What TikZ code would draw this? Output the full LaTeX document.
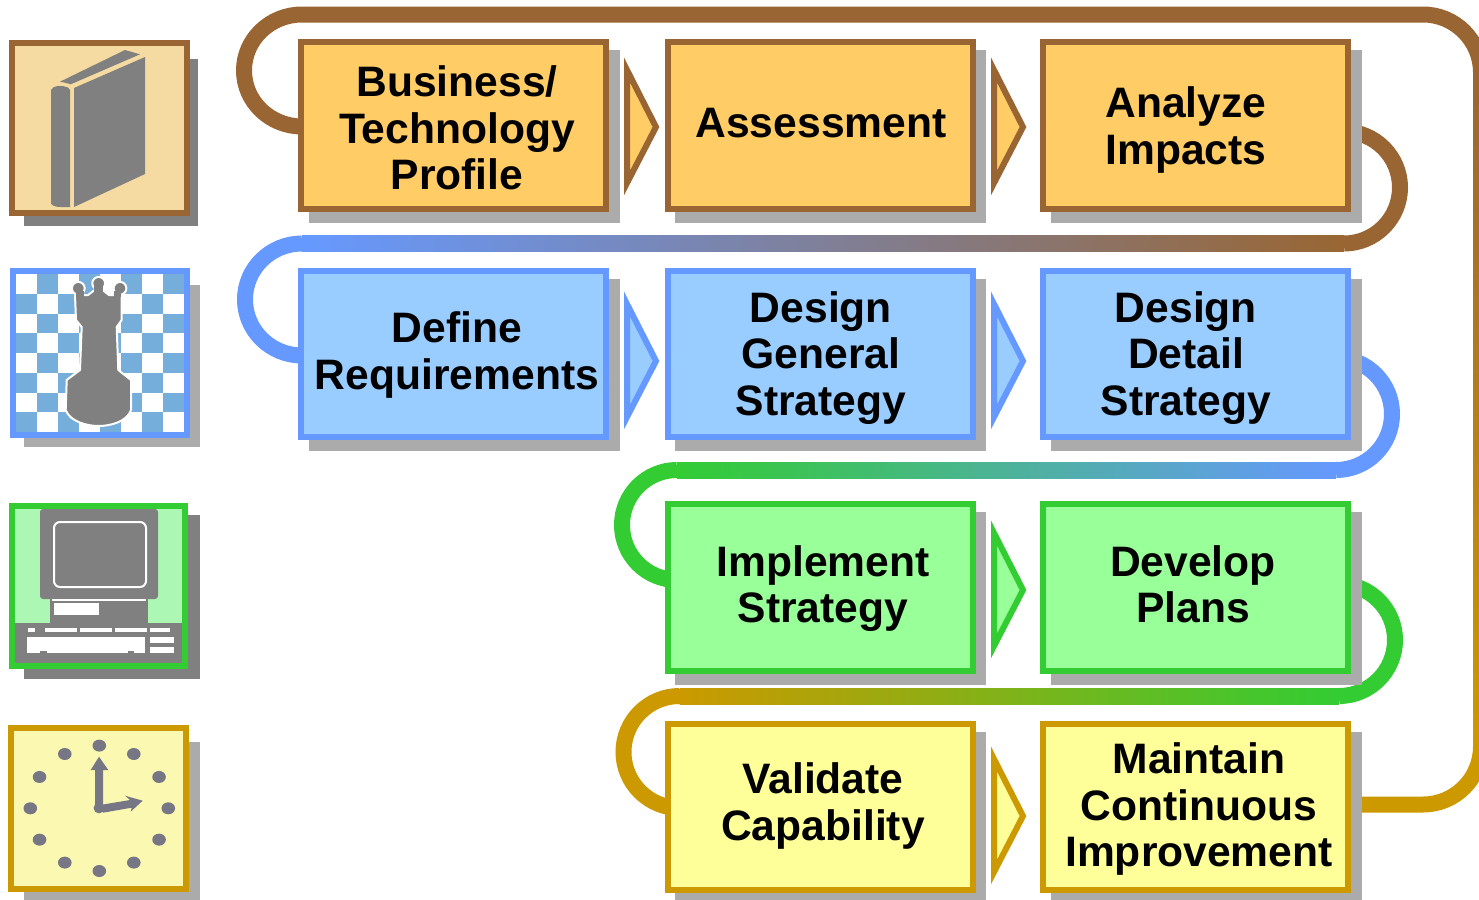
\documentclass[tikz,border=0pt]{standalone}
\usepackage{fontspec}
\setmainfont{Liberation Sans}
\usepackage{xcolor}
\usetikzlibrary{arrows,shadows,backgrounds}

\definecolor{tanline}{HTML}{996633}
\definecolor{tanfill}{HTML}{FFCC66}
\definecolor{skyline}{HTML}{6699FF}
\definecolor{skyfill}{HTML}{99CCFF}
\definecolor{leafline}{HTML}{33CC33}
\definecolor{leaffill}{HTML}{99FF99}
\definecolor{goldline}{HTML}{CC9900}
\definecolor{goldfill}{HTML}{FFFF99}
\definecolor{shadowlight}{HTML}{ABABAB}
\definecolor{shadowdark}{HTML}{808080}
\definecolor{bookback}{HTML}{F5DBA1}
\definecolor{checkblue}{HTML}{75AEDB}
\definecolor{screenback}{HTML}{ABF7B3}
\definecolor{clockback}{HTML}{FBF8B1}
\definecolor{clockhand}{HTML}{767685}

\tikzset{
	flowbox/.style={rectangle,minimum width=152.5pt,minimum height=83.2pt,inner sep=0pt,outer sep=0pt,line width=3pt,
		general shadow={shadow xshift=5.25pt,shadow yshift=-5.5pt,fill=shadowlight,draw=shadowlight,line width=3pt}},
	tanbox/.style={flowbox,draw=tanline,fill=tanfill},
	skybox/.style={flowbox,draw=skyline,fill=skyfill},
	leafbox/.style={flowbox,draw=leafline,fill=leaffill},
	goldbox/.style={flowbox,draw=goldline,fill=goldfill},
	boxtext/.style={align=center,inner sep=0pt,text=black,font=\fontsize{21.3}{23.15}\selectfont\bfseries},
	iconbox/.style={rectangle,inner sep=0pt,outer sep=0pt,line width=3pt},
	ribbon/.style={line width=8pt},
	flowtip/.style={line width=3pt,line join=miter}
}

\begin{document}
\begin{tikzpicture}[line cap=butt,x=0.5pt,y=-0.5pt]
	\clip (0,0) rectangle (1479,900);
	% step boxes
	\node[tanbox] (profile) at (453.5,125.5) {};
	\node[tanbox] (assess) at (820,125.5) {};
	\node[tanbox] (analyze) at (1195.5,125.5) {};
	\node[skybox] (define) at (453.5,353.7) {};
	\node[skybox] (general) at (820,353.7) {};
	\node[skybox] (detail) at (1195.5,353.7) {};
	\node[leafbox] (implement) at (820,587.5) {};
	\node[leafbox] (develop) at (1195.5,587.5) {};
	\node[goldbox] (validate) at (820,807) {};
	\node[goldbox] (maintain) at (1195.5,807) {};
	% step texts
	\node[boxtext] (profiletext) at (457,128) {Business/\\Technology\\Profile};
	\node[boxtext] (assesstext) at (821,123) {Assessment};
	\node[boxtext] (analyzetext) at (1186,130) {Analyze\\Impacts};
	\node[boxtext] (definetext) at (457,355) {Define\\Requirements};
	\node[boxtext] (generaltext) at (821,358) {Design\\General\\Strategy};
	\node[boxtext] (detailtext) at (1186,358) {Design\\Detail\\Strategy};
	\node[boxtext] (implementtext) at (823,588.5) {Implement\\Strategy};
	\node[boxtext] (developtext) at (1193,584.5) {Develop\\Plans};
	\node[boxtext] (validatetext) at (823,806) {Validate\\Capability};
	\node[boxtext] (maintaintext) at (1199,809) {Maintain\\Continuous\\Improvement};
	% small arrows between the boxes
	\draw[flowtip,draw=tanline,fill=tanfill] (627,70)--(656,127)--(627,183)--cycle;
	\draw[flowtip,draw=tanline,fill=tanfill] (994,70)--(1023,127)--(994,183)--cycle;
	\draw[flowtip,draw=skyline,fill=skyfill] (627,304)--(656,361)--(627,417)--cycle;
	\draw[flowtip,draw=skyline,fill=skyfill] (994,304)--(1023,361)--(994,417)--cycle;
	\draw[flowtip,draw=leafline,fill=leaffill] (994,533)--(1023,590)--(994,646)--cycle;
	\draw[flowtip,draw=goldline,fill=goldfill] (994,759)--(1023,816)--(994,872)--cycle;
	% ribbons, behind the boxes
	\begin{scope}[on background layer]
		\draw[ribbon,tanline] ([xshift=.5pt,yshift=-.5pt]profile.west) arc [start angle=270,end angle=90,x radius=29pt,y radius=28pt] coordinate (profiletop) -- (1423,14.5) arc [start angle=90,end angle=0,radius=29pt] coordinate (topturn);
		\draw[ribbon,tanline] ([xshift=-2pt,yshift=-3pt]analyze.east) arc [start angle=90,end angle=-90,radius=28pt] coordinate (analyzelow);
		\draw[ribbon,skyline] ([xshift=.5pt,yshift=-.9pt]define.west) arc [start angle=270,end angle=90,x radius=28.5pt,y radius=28pt] coordinate (defineup);
		\shade[left color=skyline,right color=tanline] ([yshift=-4pt]defineup) rectangle ([yshift=4pt]analyzelow);
		\draw[ribbon,skyline] ([xshift=-6pt,yshift=-2.15pt]detail.east) arc [start angle=90,end angle=-90,radius=28pt] coordinate (detaillow);
		\draw[ribbon,leafline] ([xshift=4.75pt,yshift=3.75pt]implement.west) arc [start angle=270,end angle=90,radius=27.5pt] coordinate (implementup);
		\shade[left color=leafline,right color=skyline] ([yshift=-4pt]implementup) rectangle ([yshift=4pt]detaillow);
		\draw[ribbon,leafline] ([xshift=-4.5pt,yshift=1.75pt]develop.east) arc [start angle=90,end angle=-90,radius=28pt] coordinate (developlow);
		\draw[ribbon,goldline] ([xshift=6pt,yshift=-.5pt]validate.west) arc [start angle=270,end angle=90,radius=28pt] coordinate (validateup);
		\shade[left color=goldline,right color=leafline] ([yshift=-4pt]validateup) rectangle ([yshift=4pt]developlow);
		\draw[ribbon,goldline] ([yshift=1.25pt]maintain.east) -- (1423,804.5) arc [start angle=-90,end angle=0,radius=29pt] coordinate (lowturn);
		\shade[top color=tanline,bottom color=goldline] ([xshift=-4pt]topturn) rectangle ([xshift=4pt]lowturn);
	\end{scope}
	% book icon
	\fill[shadowdark] (24,59) rectangle (198,226);
	\node[iconbox,draw=tanline,fill=bookback,minimum width=87.5pt,minimum height=85pt] (book) at (99.5,128) {};
	\fill[shadowdark] (74,88)--(145,57)--(145,174)--(74,207)--cycle;
	\fill[shadowdark] (51,90) .. controls (53,85) and (62,85) .. (68,87.5) -- (70,90) -- (70,207) -- (60,207) .. controls (55,207) and (51,205) .. (51,203) -- cycle;
	\fill[shadowdark] (60,81.7)--(125,50)--(140,54.3)--(70.7,84.3) .. controls (67,83) and (64,82.5) .. (60,81.7);
	% rook icon
	\fill[shadowlight] (24,285) rectangle (200,446.7);
	\node[iconbox,draw=skyline,fill=white,minimum width=87pt,minimum height=81.75pt] (rook) at (100,352.75) {};
	\foreach \i in {0,...,7}
		\foreach \j in {0,...,7}{
			\pgfmathparse{int(mod(\i+\j,2))}
			\ifnum\pgfmathresult=1
				\fill[checkblue] ({16+21*\i},{274.3+19.7*\j}) rectangle ({16+21*(\i+1)},{274.3+19.7*(\j+1)});
			\fi
		}
	\draw[white,line width=1pt,fill=shadowdark] (78.3,288.3) circle (3.2pt);
	\draw[white,line width=1pt,fill=shadowdark] (98.7,283.3) circle (3.2pt);
	\draw[white,line width=1pt,fill=shadowdark] (120,288.3) circle (3.2pt);
	\draw[white,line width=1pt,line join=round,fill=shadowdark] (75,295) -- (76,320) -- (81.7,327) -- (80,370) -- (66.7,380) -- (65.7,410) .. controls (70,422) and (88,426) .. (98.3,426) .. controls (110,426) and (127,422) .. (131,410) -- (131,380) -- (118.3,370) -- (116.7,327) -- (121.7,320) -- (121.7,295) -- (109,295) -- (98.7,287) -- (88,295) -- cycle;
	\fill[shadowdark] (75.5,291) rectangle (84,297);
	\fill[shadowdark] (94,283) rectangle (103,297);
	\fill[shadowdark] (114,291) rectangle (121.2,297);
	% computer icon
	\fill[shadowdark] (24,515) rectangle (200,679);
	\node[iconbox,draw=leafline,fill=screenback,minimum width=86.5pt,minimum height=80.15pt] (computer) at (98.5,586.15) {};
	\fill[shadowdark,rounded corners=1.5pt] (40,509) rectangle (158,599);
	\fill[shadowdark] (50,598) rectangle (148,624);
	\fill[shadowdark] (15,623) rectangle (182.3,663.3);
	\draw[white,line width=1pt,rounded corners=3pt] (54,522) rectangle (146,587);
	\draw[white,line width=1pt] (52,599.5) -- (146,599.5);
	\fill[white] (54,603) rectangle (99,615);
	\fill[white] (28,628) rectangle (35,632);
	\fill[white] (45,628) rectangle (77,632);
	\fill[white] (80,628) rectangle (112,632);
	\fill[white] (115,628) rectangle (147,632);
	\fill[white] (150,628) rectangle (170,632);
	\fill[white] (27,637) rectangle (145,653);
	\fill[shadowdark] (40,651) rectangle (47,654);
	\fill[shadowdark] (128,651) rectangle (134,654);
	\fill[white] (150,637) rectangle (174,643);
	\fill[white] (150,647) rectangle (174,653);
	% clock icon
	\fill[shadowlight] (24,742) rectangle (200,900);
	\node[iconbox,draw=goldline,fill=clockback,minimum width=87.25pt,minimum height=80.25pt] (clock) at (98.25,808.25) {};
	\foreach \a in {0,30,...,330}
		\fill[clockhand] ({99.3+69*cos(\a)},{808.3+62.7*sin(\a)}) ellipse (3.4pt and 3pt);
	\fill[clockhand] (99,808) circle (2.7pt);
	\fill[clockhand] (95,808)--(95,770)--(90.7,770)--(99,756.7)--(108.3,770)--(103,770)--(103,808)--cycle;
	\fill[clockhand] (100,805)--(130,800)--(125,795.7)--(142.7,800.7)--(130.7,811.7)--(131.7,807.7)--(103,812.7)--cycle;
\end{tikzpicture}
\end{document}
